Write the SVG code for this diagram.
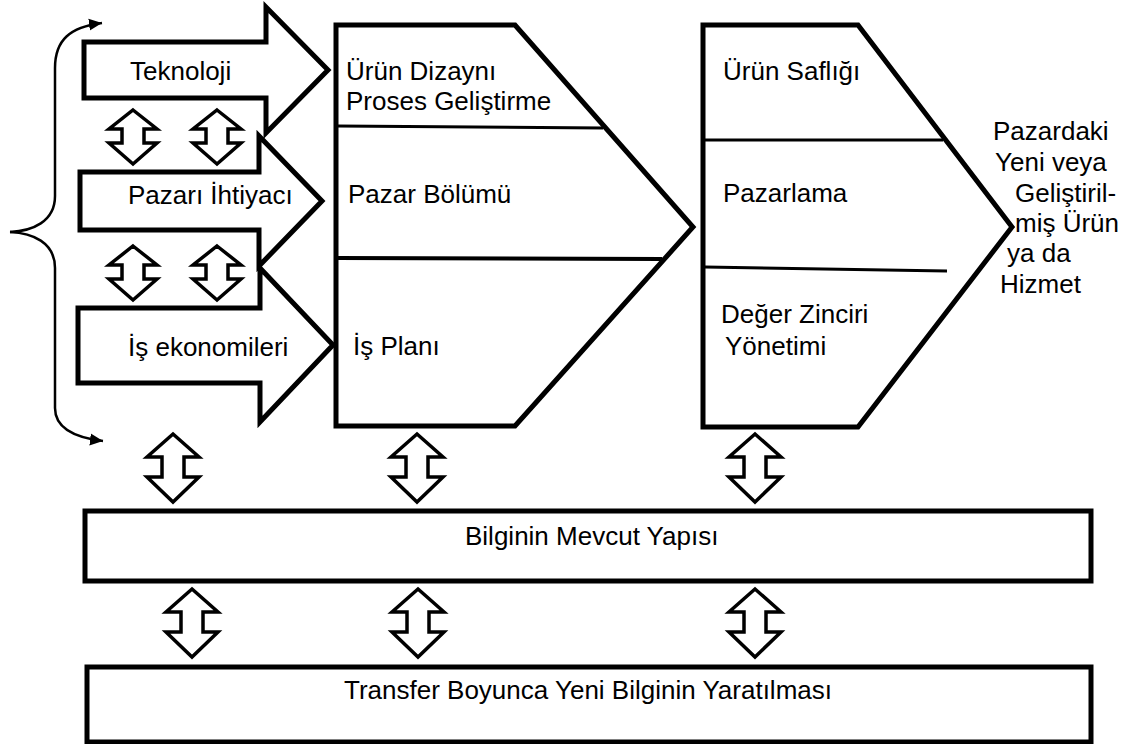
<svg xmlns="http://www.w3.org/2000/svg" width="1132" height="744" viewBox="0 0 1132 744">
<style>
.big{fill:#fff;stroke:#000;stroke-width:5;stroke-linejoin:miter;stroke-miterlimit:10}
.box{fill:#fff;stroke:#000;stroke-width:5}
.dbl{fill:#fff;stroke:#000;stroke-width:3.5;stroke-linejoin:miter;stroke-miterlimit:10}
.div{stroke:#000;stroke-width:3;fill:none}
.brace{fill:none;stroke:#000;stroke-width:2.5}
text{font-family:"Liberation Sans",Arial,sans-serif;font-size:26px;fill:#000}
</style>
<defs>
<marker id="ah" markerWidth="14" markerHeight="14" refX="13" refY="7" orient="auto" markerUnits="userSpaceOnUse">
<path d="M0,1 L13,7 L0,13 Z" fill="#000"/>
</marker>
<path id="dblS" d="M0,0 L24,19 L11,19 L11,33 L24,33 L0,54 L-24,33 L-11,33 L-11,19 L-24,19 Z"/>
<path id="dblL" d="M0,0 L26,23 L11,23 L11,43 L26,43 L0,68 L-26,43 L-11,43 L-11,23 L-26,23 Z"/>
</defs>

<g id="brace">
<path class="brace" d="M10,232 C32,231 55,222 55,196 L55,68 C55,40 70,27 102,23" marker-end="url(#ah)"/>
<path class="brace" d="M10,232 C32,233 55,242 55,268 L55,408 C55,426 70,437 103,441" marker-end="url(#ah)"/>
</g>

<g id="arrow-teknoloji">
<path class="big" d="M84,42 L266,42 L266,7 L328,70 L266,133 L266,98 L84,98 Z"/>
<text x="130" y="80">Teknoloji</text>
</g>
<g id="arrow-pazar">
<path class="big" d="M80,172 L259,172 L259,136 L322,201 L259,266 L259,230 L80,230 Z"/>
<text x="128" y="204">Pazarı İhtiyacı</text>
</g>
<g id="arrow-is">
<path class="big" d="M78,308 L260,308 L260,268 L333,345 L260,422 L260,383 L78,383 Z"/>
<text x="128" y="356">İş ekonomileri</text>
</g>

<g id="pentagon-1">
<path class="big" d="M336,25 L515,25 L693,227 L515,426 L336,426 Z"/>
<path class="div" d="M337,126 L603,128"/>
<path class="div" style="stroke-width:4" d="M337,258 L662,259"/>
<text x="346" y="80">Ürün Dizaynı</text>
<text x="346" y="110">Proses Geliştirme</text>
<text x="348" y="203">Pazar Bölümü</text>
<text x="353" y="355">İş Planı</text>
</g>

<g id="pentagon-2">
<path class="big" d="M703,25 L858,25 L1012,227 L858,427 L703,427 Z"/>
<path class="div" d="M705,140 L943,140"/>
<path class="div" d="M705,267 L947,271"/>
<text x="723" y="80">Ürün Saflığı</text>
<text x="723" y="202">Pazarlama</text>
<text x="721" y="323">Değer Zinciri</text>
<text x="725" y="355">Yönetimi</text>
</g>

<g id="output-label">
<text x="993" y="140">Pazardaki</text>
<text x="995" y="171">Yeni veya</text>
<text x="1015" y="202">Geliştiril-</text>
<text x="1015" y="232">miş Ürün</text>
<text x="1007" y="262">ya da</text>
<text x="1000" y="293">Hizmet</text>
</g>

<g id="box-mevcut">
<rect class="box" x="85" y="511" width="1006" height="70"/>
<text x="465" y="545">Bilginin Mevcut Yapısı</text>
</g>
<g id="box-transfer">
<rect class="box" x="87" y="667" width="1004" height="75"/>
<text x="588" y="699" text-anchor="middle">Transfer Boyunca Yeni Bilginin Yaratılması</text>
</g>

<g id="connectors">
<use href="#dblS" class="dbl" x="133" y="110"/>
<use href="#dblS" class="dbl" x="217" y="110"/>
<use href="#dblS" class="dbl" x="133" y="246"/>
<use href="#dblS" class="dbl" x="217" y="246"/>
<use href="#dblL" class="dbl" x="173" y="434"/>
<use href="#dblL" class="dbl" x="417" y="434"/>
<use href="#dblL" class="dbl" x="755" y="434"/>
<use href="#dblL" class="dbl" x="192" y="589"/>
<use href="#dblL" class="dbl" x="418" y="589"/>
<use href="#dblL" class="dbl" x="755" y="589"/>
</g>
</svg>
